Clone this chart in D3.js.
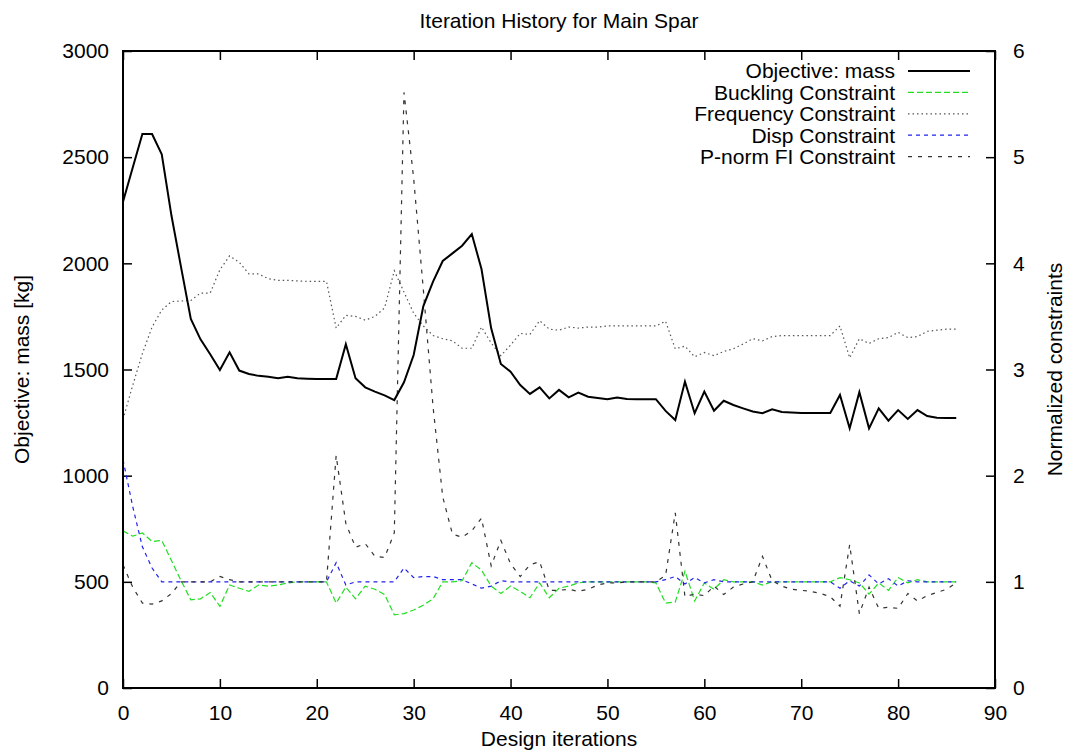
<!DOCTYPE html>
<html>
<head>
<meta charset="utf-8">
<script src="https://cdn.jsdelivr.net/npm/d3@7"></script>
<style>
  body { margin: 0; background: #fff; }
  svg text { font-family: "Liberation Sans", Arial, Helvetica, sans-serif; }
</style>
</head>
<body>
<div id="chart"></div>
<script>
// values, one per design iteration (0..86)
var iterations = d3.range(0, 87);

var massValues = [2290, 2450, 2609, 2609, 2513, 2225, 1980, 1738, 1642, 1572,
  1498, 1581, 1495, 1479, 1470, 1466, 1459, 1466, 1459, 1457,
  1455, 1455, 1455, 1619, 1459, 1416, 1396, 1378, 1356, 1440,
  1568, 1799, 1914, 2011, 2047, 2083, 2138, 1973, 1694, 1526,
  1490, 1427, 1385, 1416, 1364, 1404, 1369, 1391, 1372, 1366,
  1360, 1368, 1361, 1360, 1360, 1360, 1305, 1262, 1443, 1294,
  1396, 1306, 1353, 1333, 1317, 1302, 1294, 1313, 1300, 1297,
  1295, 1295, 1295, 1295, 1380, 1223, 1393, 1223, 1317, 1259,
  1309, 1267, 1309, 1281, 1273, 1271, 1271];

var bucklingValues = [1.48, 1.43, 1.46, 1.38, 1.39, 1.20, 1.01, 0.83, 0.84, 0.90,
  0.77, 0.97, 0.94, 0.91, 0.97, 0.96, 0.97, 0.99, 1.00, 1.00,
  1.00, 1.00, 0.80, 0.95, 0.84, 0.96, 0.93, 0.88, 0.69, 0.70,
  0.735, 0.78, 0.84, 1.00, 1.00, 1.01, 1.18, 1.11, 0.96, 0.89,
  0.96, 0.91, 0.85, 0.99, 0.85, 0.94, 0.96, 0.99, 1.00, 1.00,
  1.00, 1.00, 1.00, 1.00, 1.00, 0.99, 0.80, 0.81, 1.10, 0.82,
  0.99, 0.93, 1.02, 1.00, 1.00, 1.00, 0.97, 1.00, 1.00, 1.00,
  1.00, 1.00, 1.00, 1.00, 1.04, 1.02, 0.99, 0.885, 0.99, 0.92,
  1.04, 0.99, 1.02, 1.00, 1.00, 1.00, 1.00];

var frequencyValues = [2.53, 2.85, 3.15, 3.40, 3.56, 3.64, 3.645, 3.65, 3.72, 3.72,
  3.94, 4.07, 4.01, 3.90, 3.90, 3.855, 3.84, 3.84, 3.835, 3.83,
  3.83, 3.83, 3.39, 3.51, 3.50, 3.465, 3.50, 3.58, 3.93, 3.73,
  3.53, 3.41, 3.32, 3.29, 3.27, 3.20, 3.20, 3.40, 3.25, 3.13,
  3.23, 3.34, 3.33, 3.46, 3.38, 3.37, 3.40, 3.39, 3.40, 3.40,
  3.41, 3.41, 3.41, 3.41, 3.41, 3.41, 3.455, 3.195, 3.22, 3.12,
  3.16, 3.13, 3.17, 3.195, 3.24, 3.29, 3.27, 3.31, 3.32, 3.32,
  3.32, 3.32, 3.32, 3.32, 3.41, 3.11, 3.29, 3.245, 3.29, 3.30,
  3.35, 3.30, 3.31, 3.36, 3.37, 3.38, 3.38];

var dispValues = [2.15, 1.71, 1.33, 1.13, 1.00, 1.00, 1.00, 1.00, 1.00, 1.00,
  1.00, 1.00, 1.00, 1.00, 1.00, 1.00, 1.00, 1.00, 1.00, 1.00,
  1.00, 1.00, 1.18, 0.97, 1.00, 1.00, 1.00, 1.00, 1.00, 1.13,
  1.04, 1.05, 1.05, 1.02, 1.02, 1.02, 0.98, 0.94, 0.96, 1.01,
  1.00, 1.00, 1.00, 1.00, 1.00, 1.00, 1.00, 1.00, 1.00, 1.00,
  1.00, 1.00, 1.00, 1.00, 1.00, 1.00, 1.02, 1.05, 0.98, 1.04,
  0.99, 1.02, 1.00, 1.00, 1.00, 1.00, 1.00, 1.00, 1.00, 1.00,
  1.00, 1.00, 1.00, 1.00, 0.94, 1.01, 0.96, 1.065, 0.98, 1.03,
  0.96, 1.01, 1.00, 1.00, 1.00, 1.00, 1.00];

var pnormValues = [1.16, 0.95, 0.80, 0.79, 0.82, 0.89, 1.00, 1.00, 1.00, 1.00,
  1.05, 1.02, 1.00, 1.00, 1.00, 1.00, 1.00, 1.00, 1.00, 1.00,
  1.00, 1.00, 2.19, 1.55, 1.325, 1.36, 1.24, 1.23, 1.46, 5.61,
  4.80, 3.75, 2.65, 1.80, 1.45, 1.42, 1.48, 1.60, 1.15, 1.39,
  1.17, 1.05, 1.16, 1.19, 0.92, 0.92, 0.93, 0.91, 0.93, 0.97,
  0.99, 0.99, 1.00, 1.00, 1.00, 1.00, 1.06, 1.65, 0.86, 0.885,
  0.87, 0.96, 0.88, 0.95, 0.98, 1.00, 1.24, 1.01, 0.96, 0.93,
  0.92, 0.91, 0.89, 0.86, 0.77, 1.35, 0.70, 0.95, 0.75, 0.76,
  0.75, 0.89, 0.82, 0.87, 0.90, 0.93, 0.99];

var xTicks = [0, 10, 20, 30, 40, 50, 60, 70, 80, 90];
var leftTicks = [0, 500, 1000, 1500, 2000, 2500, 3000];
var rightTicks = [0, 1, 2, 3, 4, 5, 6];

var seriesNames = ["Objective: mass", "Buckling Constraint", "Frequency Constraint",
  "Disp Constraint", "P-norm FI Constraint"];

var width = 1068, height = 756;
var margin = {top: 51, right: 73, bottom: 68, left: 123};
var plotW = width - margin.left - margin.right,
    plotH = height - margin.top - margin.bottom;

var svg = d3.select("#chart")
  .append("svg")
  .attr("width", width)
  .attr("height", height);

var g = svg.append("g")
  .attr("transform", "translate(" + margin.left + "," + margin.top + ")");

var x = d3.scaleLinear().domain([0, 90]).range([0, plotW]);
var yL = d3.scaleLinear().domain([0, 3000]).range([plotH, 0]);
var yR = d3.scaleLinear().domain([0, 6]).range([plotH, 0]);

var fontSize = 21;
var fmt = d3.format("d");

// axes, ticks pointing inwards like gnuplot
function styleAxis(sel) {
  sel.select(".domain").remove();
  sel.selectAll(".tick line").attr("stroke", "#000").attr("stroke-width", 1.5);
  sel.selectAll(".tick text").attr("fill", "#000").style("font-size", fontSize + "px");
}

g.append("g")
  .attr("transform", "translate(0," + plotH + ")")
  .call(d3.axisBottom(x).tickValues(xTicks).tickFormat(fmt).tickSizeInner(-9).tickSizeOuter(0).tickPadding(17))
  .call(styleAxis);

g.append("g")
  .call(d3.axisTop(x).tickValues(xTicks).tickSizeInner(-9).tickSizeOuter(0).tickFormat(""))
  .call(styleAxis);

g.append("g")
  .call(d3.axisLeft(yL).tickValues(leftTicks).tickFormat(fmt).tickSizeInner(-9).tickSizeOuter(0).tickPadding(14))
  .call(styleAxis);

g.append("g")
  .attr("transform", "translate(" + plotW + ",0)")
  .call(d3.axisRight(yR).tickValues(rightTicks).tickFormat(fmt).tickSizeInner(-9).tickSizeOuter(0).tickPadding(18))
  .call(styleAxis);

// lines
var lineL = d3.line()
  .x(function(d, i) { return x(iterations[i]); })
  .y(function(d) { return yL(d); });
var lineR = d3.line()
  .x(function(d, i) { return x(iterations[i]); })
  .y(function(d) { return yR(d); });

var styles = [
  {color: "#000000", width: 2, dash: null},
  {color: "#22dd22", width: 1.2, dash: "6,3"},
  {color: "#555555", width: 1.2, dash: "1.5,3"},
  {color: "#2222ee", width: 1.2, dash: "4,4"},
  {color: "#333333", width: 1.2, dash: "4,6"}
];

var seriesData = [massValues, bucklingValues, frequencyValues, dispValues, pnormValues];

// draw right-axis series first, mass on top
[1, 2, 3, 4, 0].forEach(function(k) {
  var s = styles[k];
  g.append("path")
    .datum(seriesData[k])
    .attr("fill", "none")
    .attr("stroke", s.color)
    .attr("stroke-width", s.width)
    .attr("stroke-dasharray", s.dash)
    .attr("stroke-linejoin", "miter")
    .attr("d", k == 0 ? lineL : lineR);
});

// frame
g.append("rect")
  .attr("x", 0).attr("y", 0)
  .attr("width", plotW).attr("height", plotH)
  .attr("fill", "none")
  .attr("stroke", "#000")
  .attr("stroke-width", 2);

// legend
var legend = g.append("g").attr("transform", "translate(" + (895 - margin.left) + "," + (71 - margin.top) + ")");
seriesNames.forEach(function(name, i) {
  var s = styles[i];
  var row = legend.append("g").attr("transform", "translate(0," + (i * 21.4) + ")");
  row.append("text")
    .attr("x", 0).attr("y", 0).attr("dy", "0.35em")
    .attr("text-anchor", "end")
    .style("font-size", fontSize + "px")
    .text(name);
  row.append("line")
    .attr("x1", 13).attr("x2", 75)
    .attr("y1", 0).attr("y2", 0)
    .attr("stroke", s.color)
    .attr("stroke-width", s.width)
    .attr("stroke-dasharray", s.dash);
});

// titles
svg.append("text")
  .attr("x", margin.left + plotW / 2).attr("y", 28)
  .attr("text-anchor", "middle")
  .style("font-size", fontSize + "px")
  .text("Iteration History for Main Spar");

svg.append("text")
  .attr("x", margin.left + plotW / 2).attr("y", 746)
  .attr("text-anchor", "middle")
  .style("font-size", fontSize + "px")
  .text("Design iterations");

svg.append("text")
  .attr("transform", "translate(29," + (margin.top + plotH / 2) + ") rotate(-90)")
  .attr("text-anchor", "middle")
  .style("font-size", fontSize + "px")
  .text("Objective: mass [kg]");

svg.append("text")
  .attr("transform", "translate(1062," + (margin.top + plotH / 2) + ") rotate(-90)")
  .attr("text-anchor", "middle")
  .style("font-size", fontSize + "px")
  .text("Normalized constraints");
</script>
</body>
</html>
